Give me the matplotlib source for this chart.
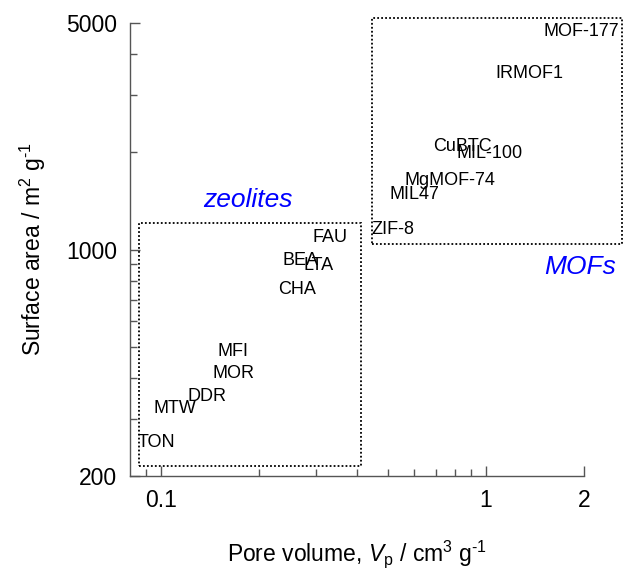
import matplotlib
matplotlib.use("Agg")
import matplotlib.pyplot as plt
from matplotlib.ticker import FixedLocator, NullFormatter, FixedFormatter
from matplotlib.patches import Rectangle

plt.rcParams["font.family"] = ["Liberation Sans", "DejaVu Sans"]
plt.rcParams["mathtext.fontset"] = "custom"
plt.rcParams["mathtext.rm"] = "Liberation Sans"
plt.rcParams["mathtext.it"] = "Liberation Sans:italic"

# material labels: pore volume (cm3/g), surface area (m2/g)
zeolite_names = ["FAU", "BEA", "LTA", "CHA", "MFI", "MOR", "DDR", "MTW", "TON"]
zeolite_vp = [0.292, 0.237, 0.274, 0.229, 0.149, 0.144, 0.121, 0.095, 0.085]
zeolite_sa = [1089, 925, 893, 753, 486, 415, 351, 324, 253]

mof_names = ["MOF-177", "IRMOF1", "CuBTC", "MIL-100", "MgMOF-74", "MIL47", "ZIF-8"]
mof_vp = [1.50, 1.07, 0.687, 0.809, 0.563, 0.503, 0.443]
mof_sa = [4720, 3480, 2075, 1974, 1630, 1476, 1152]

# group boxes: (x0, x1, y0, y1)
zeolite_box = (0.0856, 0.412, 215, 1211)
mof_box = (0.446, 2.62, 1043, 5175)

x_major = [0.1, 1, 2]
x_minor = [0.09, 0.2, 0.3, 0.4, 0.5, 0.6, 0.7, 0.8, 0.9]
y_major = [200, 1000, 5000]
y_minor = [300, 400, 500, 600, 700, 800, 900, 2000, 3000, 4000]

fig = plt.figure(figsize=(6.27, 5.72), dpi=100)
ax = fig.add_axes([0.2073, 0.1678, 0.7241, 0.792])
ax.set_xscale("log")
ax.set_yscale("log")
ax.set_xlim(0.0803, 2)
ax.set_ylim(200, 5000)

for s in ["top", "right"]:
    ax.spines[s].set_visible(False)
for s in ["left", "bottom"]:
    ax.spines[s].set_color("#555555")
    ax.spines[s].set_linewidth(1.0)

ax.xaxis.set_major_locator(FixedLocator(x_major))
ax.xaxis.set_major_formatter(FixedFormatter(["0.1", "1", "2"]))
ax.xaxis.set_minor_locator(FixedLocator(x_minor))
ax.xaxis.set_minor_formatter(NullFormatter())
ax.yaxis.set_major_locator(FixedLocator(y_major))
ax.yaxis.set_major_formatter(FixedFormatter(["200", "1000", "5000"]))
ax.yaxis.set_minor_locator(FixedLocator(y_minor))
ax.yaxis.set_minor_formatter(NullFormatter())

ax.tick_params(which="both", direction="in", color="#555555", width=1.0,
               labelsize=16.5, pad=9)
ax.tick_params(which="major", length=7)
ax.tick_params(which="minor", length=5)

for box in [zeolite_box, mof_box]:
    x0, x1, y0, y1 = box
    ax.add_patch(Rectangle((x0, y0), x1 - x0, y1 - y0, fill=False,
                           linestyle=(0, (1, 1.2)), linewidth=1.3,
                           edgecolor="black", clip_on=False))

for name, x, y in zip(zeolite_names, zeolite_vp, zeolite_sa):
    ax.text(x, y, name, fontsize=13, ha="left", va="center")
for name, x, y in zip(mof_names, mof_vp, mof_sa):
    ax.text(x, y, name, fontsize=13, ha="left", va="center", clip_on=False)

ax.text(0.185, 1420, "zeolites", fontsize=19, style="italic", color="blue",
        ha="center", va="center")
ax.text(1.95, 880, "MOFs", fontsize=19, style="italic", color="blue",
        ha="center", va="center", clip_on=False)

ax.set_xlabel(r"Pore volume, $V_\mathrm{p}$ / cm$^3$ g$^{\text{-1}}$", fontsize=16.5,
              labelpad=19)
ax.set_ylabel(r"Surface area / m$^2$ g$^{\text{-1}}$", fontsize=16.5, labelpad=13)

fig.savefig("out.png", dpi=100)
